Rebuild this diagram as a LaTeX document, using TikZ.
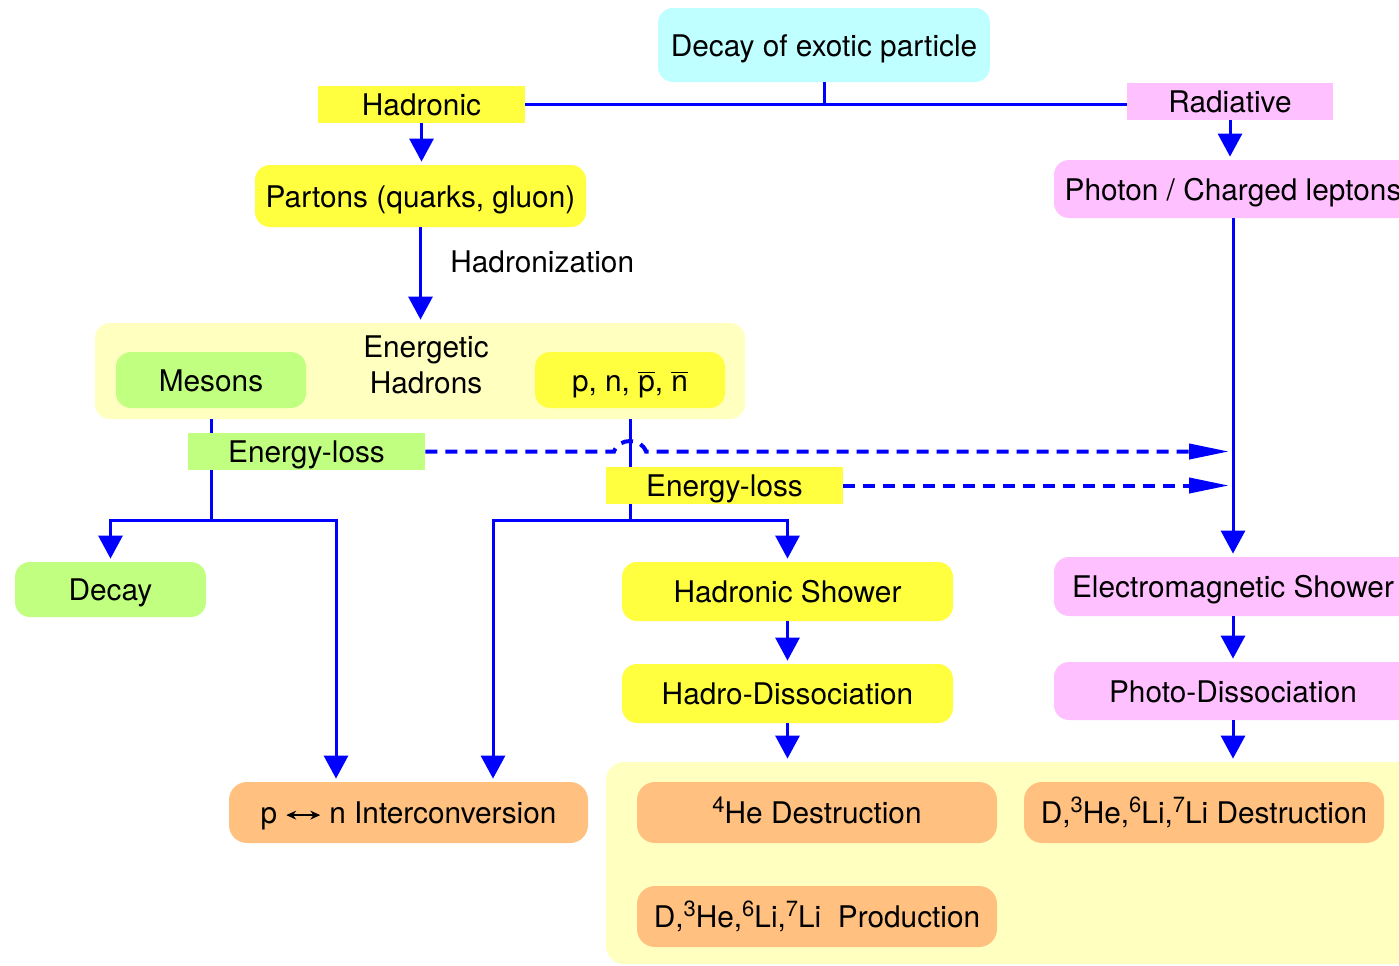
\documentclass[tikz,border=0pt]{standalone}
\usepackage{fontspec}
\setmainfont{TeX Gyre Heros}
\usetikzlibrary{arrows.meta,calc}
\definecolor{cyanbox}{HTML}{C0FFFF}
\definecolor{yellowbox}{HTML}{FFFF40}
\definecolor{pinkbox}{HTML}{FFC0FF}
\definecolor{greenbox}{HTML}{C0FF80}
\definecolor{orangebox}{HTML}{FFC080}
\definecolor{palebox}{HTML}{FFFFC0}
\newcommand{\antibar}[1]{$\overline{\mbox{#1}}$}
\newcommand{\iso}[1]{\raisebox{5.5pt}{\fontsize{11}{11}\selectfont #1}}
\tikzset{every node/.style={font=\fontsize{14.9}{18}\selectfont, inner sep=0pt},
  lbl/.style={text height=11pt, text depth=0pt},
  rbox/.style={lbl, rounded corners=7.5pt},
  flow/.style={blue, line width=1.5pt, -{Triangle[width=12pt,length=11.5pt]}, shorten >=1.5pt},
  link/.style={blue, line width=1.5pt},
  eloss/.style={blue, line width=2pt, dash pattern=on 6pt off 4pt, -{Triangle[width=7.5pt,length=20pt]}, shorten >=2pt}}

\begin{document}
\begin{tikzpicture}[x=0.5pt,y=-0.5pt]
     \useasboundingbox (0,0) rectangle (1399,965);
     \clip (0,0) rectangle (1399,965);
     % pale background boxes
     \node[rounded corners=7.5pt, fill=palebox, minimum width=325pt, minimum height=48pt] (hadbox) at (420,371) {};
     \node[rounded corners=9pt, fill=palebox, minimum width=407pt, minimum height=101pt] (lowbox) at (1013,863) {};
     \node[align=center] (enh) at (426,365) {Energetic\\Hadrons};
     % boxes
     \node[rbox, fill=cyanbox, minimum width=166pt, minimum height=37pt] (top) at (824,45) {Decay of exotic particle};
     \node[lbl, fill=yellowbox, minimum width=103.5pt, minimum height=18.5pt] (had) at (421.5,104.5) {Hadronic};
     \node[lbl, fill=pinkbox, minimum width=103pt, minimum height=18.5pt] (rad) at (1230,101.5) {Radiative};
     \node[rbox, fill=yellowbox, minimum width=165.5pt, minimum height=31pt] (part) at (420.5,196) {Partons (quarks, gluon)};
     \node[rbox, fill=greenbox, minimum width=95pt, minimum height=28pt] (mes) at (211,380) {Mesons};
     \node[rbox, fill=yellowbox, minimum width=95pt, minimum height=28pt] (pnb) at (630,380) {p, n, \antibar{p}, \antibar{n}};
     \node[rbox, fill=greenbox, minimum width=95.5pt, minimum height=27.5pt] (dec) at (110.5,589.5) {Decay};
     \node[rbox, fill=yellowbox, minimum width=165.5pt, minimum height=29.5pt] (hsh) at (787.5,591.5) {Hadronic Shower};
     \node[rbox, fill=yellowbox, minimum width=165.5pt, minimum height=29.5pt] (hdis) at (787.5,693.5) {Hadro-Dissociation};
     \node[rbox, rounded corners=9pt, fill=orangebox, minimum width=179.5pt, minimum height=30.5pt] (pn) at (408.5,812.5)
       {p \tikz[baseline=-4.2pt]\draw[black, line width=0.8pt, {Stealth[length=5pt,width=4.5pt]}-{Stealth[length=5pt,width=4.5pt]}] (0pt,0pt) -- (17pt,0pt); n Interconversion};
     \node[rbox, rounded corners=9pt, fill=orangebox, minimum width=180pt, minimum height=30.5pt] (hed) at (817,812.5) {\iso{4}He Destruction};
     \node[rbox, rounded corners=9pt, fill=orangebox, minimum width=180pt, minimum height=30.5pt] (dld) at (1204,812.5)
       {D,\iso{3}He,\iso{6}Li,\iso{7}Li Destruction};
     \node[rbox, rounded corners=9pt, fill=orangebox, minimum width=180pt, minimum height=30.5pt] (dlp) at (817,916.5)
       {D,\iso{3}He,\iso{6}Li,\iso{7}Li\ \ Production};
     \node[rbox, fill=pinkbox, minimum width=179pt, minimum height=29pt] (pho) at (1233,189) {Photon / Charged leptons};
     \node[rbox, fill=pinkbox, minimum width=179pt, minimum height=29.5pt] (ems) at (1233,586.5) {Electromagnetic Shower};
     \node[rbox, fill=pinkbox, minimum width=179pt, minimum height=29pt] (phd) at (1233,691) {Photo-Dissociation};
     % top split
     \coordinate (split) at (top.south |- had.east);
     \draw[link] (top) -- (split);
     \draw[link] (had.east) -- (had.east -| rad.west);
     \draw[flow] (had.south) -- (had.south |- part.north);
     \draw[flow] (part.south) -- (part.south |- hadbox.north);
     \node[anchor=west] (hz) at (450,262) {Hadronization};
     % radiative side
     \draw[flow] (rad.south) -- (rad.south |- pho.north);
     \draw[flow] (pho.south) -- (ems.north);
     \draw[flow] (ems) -- (phd);
     \draw[flow] (phd.south) -- (phd.south |- lowbox.north);
     \draw[flow] (hsh) -- (hdis);
     \draw[flow] (hdis.south) -- (hdis.south |- lowbox.north);
     % branches below the hadrons
     \coordinate (mjoin) at (211,520);
     \coordinate (pjoin) at (630,520);
     \draw[link] (mes.south |- hadbox.south) -- (mjoin);
     \draw[flow] (mjoin) -| (dec.north);
     \draw[flow] (mjoin) -| ($(pn.north)+(-72.5,0)$);
     \draw[link] (pnb.south |- hadbox.south) -- (pjoin);
     \draw[flow] (pjoin) -| (hsh.north);
     \draw[flow] (pjoin) -| ($(pn.north)+(84.5,0)$);
     % energy loss
     \node[lbl, fill=greenbox, minimum width=118.5pt, minimum height=18.5pt] (el1) at (306.5,451.5) {Energy-loss};
     \node[lbl, fill=yellowbox, minimum width=118.5pt, minimum height=18.5pt] (el2) at (724.5,485.5) {Energy-loss};
     \draw[eloss] (el1.east) -- ($(el1.east -| pnb.south)+(-16,0)$)
       .. controls +(5,-14) and +(-5,-14) .. ($(el1.east -| pnb.south)+(16,0)$) -- (el1.east -| pho.south);
     \draw[eloss] (el2.east) -- (el2.east -| pho.south);
\end{tikzpicture}
\end{document}
